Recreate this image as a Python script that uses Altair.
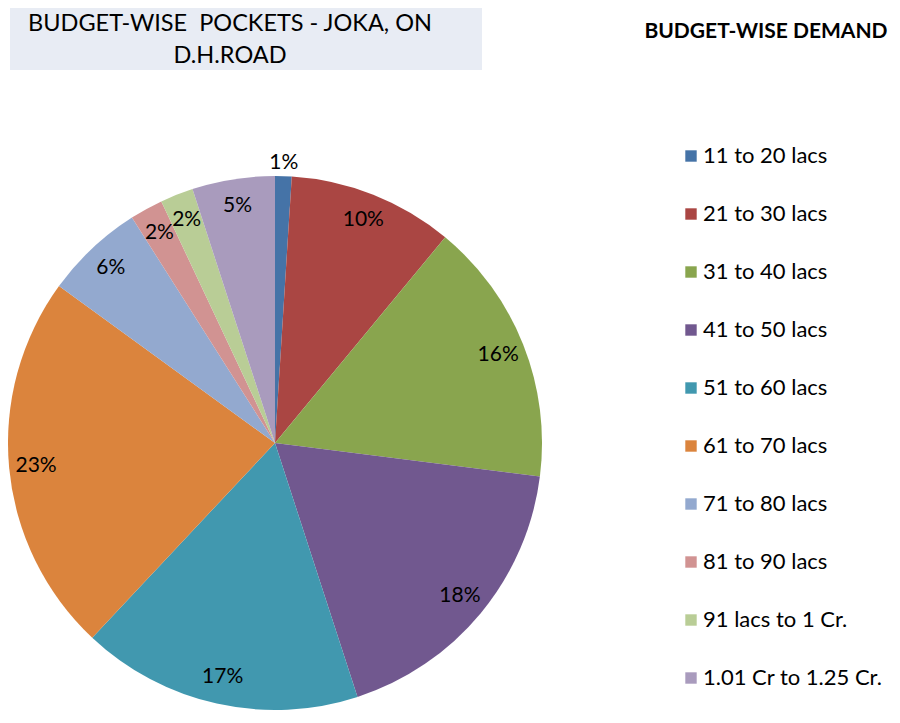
import altair as alt
import pandas as pd

categories = ["11 to 20 lacs", "21 to 30 lacs", "31 to 40 lacs", "41 to 50 lacs",
              "51 to 60 lacs", "61 to 70 lacs", "71 to 80 lacs", "81 to 90 lacs",
              "91 lacs to 1 Cr.", "1.01 Cr to 1.25 Cr."]
values = [1, 10, 16, 18, 17, 23, 6, 2, 2, 5]
colors = ["#4573A7", "#AA4643", "#89A54E", "#71588F", "#4198AF",
          "#DB843D", "#93A9CF", "#D19392", "#B9CD96", "#A99BBD"]
title_lines = ["BUDGET-WISE\u00a0 POCKETS - JOKA, ON", "D.H.ROAD"]
legend_title = "BUDGET-WISE DEMAND"

df = pd.DataFrame({"cat": categories, "val": values, "idx": list(range(len(values)))})
df["lbl"] = df["val"].astype(str) + "%"

FONT = "Lato"
CX, CY, R = 267, 435, 267

base = alt.Chart(df).encode(
    theta=alt.Theta("val:Q", stack=True),
    order=alt.Order("idx:Q"),
)

color = alt.Color("cat:N", sort=categories,
                  scale=alt.Scale(domain=categories, range=colors),
                  legend=alt.Legend(orient="none", legendX=672, legendY=137,
                                    title=None, symbolType="square", symbolSize=130,
                                    symbolStrokeWidth=0,
                                    labelFont=FONT, labelFontSize=22, labelColor="#000",
                                    rowPadding=36, labelLimit=300, labelOffset=1))

pie = base.mark_arc(radius=R).encode(
    color=color, x=alt.value(CX), y=alt.value(CY))

labels_in = base.mark_text(radius=240, font=FONT, fontSize=21, color="#000").encode(
    text="lbl:N", x=alt.value(CX), y=alt.value(CY),
    opacity=alt.condition(alt.datum.val > 1, alt.value(1), alt.value(0)),
)

labels_out = base.mark_text(radius=280, font=FONT, fontSize=21, color="#000").encode(
    text="lbl:N", x=alt.value(CX), y=alt.value(CY),
    opacity=alt.condition(alt.datum.val <= 1, alt.value(1), alt.value(0)),
)

tdf = pd.DataFrame({"t": title_lines, "i": [0, 1]})
title_bg = alt.Chart(pd.DataFrame({"a": [0]})).mark_rect(color="#E8ECF4").encode(
    x=alt.value(2), x2=alt.value(474), y=alt.value(0), y2=alt.value(62))
title_txt = alt.Chart(tdf).mark_text(font=FONT, fontSize=23.5, color="#000",
                                     baseline="middle", align="center").encode(
    text="t:N", x=alt.value(222),
    y=alt.Y("i:Q", scale=alt.Scale(domain=[0, 1], range=[16, 48]), axis=None))

ltitle = alt.Chart(pd.DataFrame({"t": [legend_title]})).mark_text(
    font=FONT, fontSize=21, fontWeight="bold", color="#000", baseline="middle",
    align="center").encode(text="t:N", x=alt.value(758), y=alt.value(24))

chart = alt.layer(title_bg, title_txt, pie, labels_in, labels_out, ltitle).properties(
    width=884, height=707, padding=0,
    autosize=alt.AutoSizeParams(type="none"),
).configure_view(stroke=None).resolve_scale(y="independent")

chart.save("out.html", embed_options={"renderer": "svg", "actions": False})
